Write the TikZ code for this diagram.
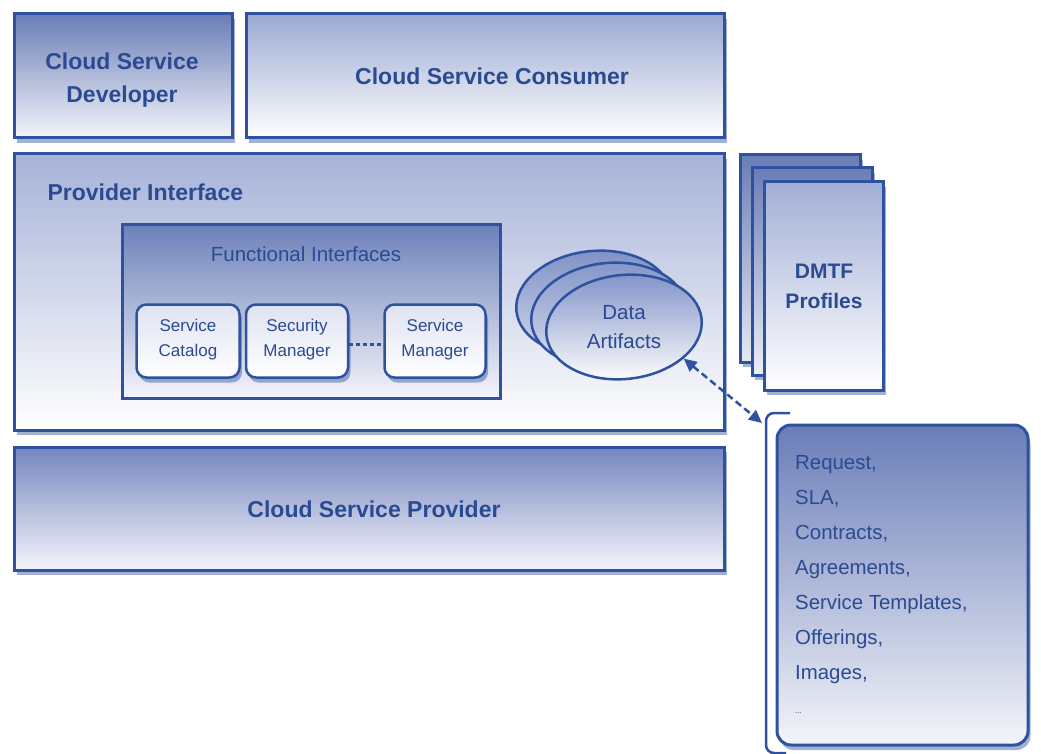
\documentclass[tikz,border=0pt]{standalone}
\usepackage{fontspec}
\setmainfont{Liberation Sans}
\usetikzlibrary{shadows,arrows.meta,shapes.geometric}
\definecolor{bord}{HTML}{2F52A0}
\definecolor{txt}{HTML}{2A4A92}
\definecolor{dk}{HTML}{6A7DB6}
\definecolor{md}{HTML}{9AA8D2}
\definecolor{lt}{HTML}{F4F5FA}
\definecolor{pitop}{HTML}{A6B2D8}
\definecolor{fitop}{HTML}{6C80BA}
\definecolor{sbtop}{HTML}{DFE3F1}
\definecolor{e3top}{HTML}{7D8FC4}
\definecolor{e3bot}{HTML}{D5DBEC}
\definecolor{e2top}{HTML}{8294C7}
\definecolor{e2bot}{HTML}{DCE1EF}
\definecolor{e1top}{HTML}{7F91C6}
\definecolor{d3bot}{HTML}{E6E9F3}
\definecolor{d2bot}{HTML}{EDEFF6}
\definecolor{d1top}{HTML}{A2AFD6}
\definecolor{csptop}{HTML}{7585BF}
\definecolor{lsttop}{HTML}{6A7DB7}
\begin{document}
\begin{tikzpicture}[x=1pt,y=-1pt,
  box/.style={draw=bord, line width=3pt, inner sep=0pt, text=txt,
    drop shadow={fill=bord, opacity=0.45, shadow xshift=2.5pt, shadow yshift=-5pt}},
  rbox/.style={box, rounded corners=10pt, line width=2.5pt},
  big/.style={font=\bfseries\fontsize{23}{33}\selectfont, text=txt, align=center},
  small/.style={font=\fontsize{17}{25}\selectfont, text=txt, align=center},
  mid/.style={font=\fontsize{20.5}{29}\selectfont, text=txt, align=center},
  ell/.style={ellipse, draw=bord, line width=2.5pt, minimum width=156pt, minimum height=104pt, inner sep=0pt, rotate=6},
  dotline/.style={draw=bord, line width=3pt, dash pattern=on 4pt off 3pt},
  conn/.style={draw=bord, line width=2.5pt, dash pattern=on 7pt off 4pt, {Triangle[length=13pt,width=12pt]}-{Triangle[length=13pt,width=12pt]}}
]
\useasboundingbox (0,0) rectangle (1041,754);

% top row
\node[box, top color=dk, bottom color=lt, minimum width=218pt, minimum height=124pt] (dev) at (123,76) {};
\node[big] (devt) at (122,80) {Cloud Service\\Developer};
\node[box, top color=md, bottom color=white, minimum width=478pt, minimum height=124pt] (cons) at (485,76) {};
\node[big] (const) at (492,76) {Cloud Service Consumer};

% provider interface
\node[box, top color=pitop, bottom color=white, minimum width=710pt, minimum height=276pt] (pi) at (369,292) {};
\node[big, anchor=west] (pit) at (44,192) {Provider Interface};

% functional interfaces
\node[draw=bord, line width=3pt, top color=fitop, bottom color=lt, minimum width=378pt, minimum height=174pt, inner sep=0pt] (fi) at (311,311) {};
\node[mid] (fit) at (306,254) {Functional Interfaces};
\node[rbox, top color=sbtop, bottom color=white, minimum width=103pt, minimum height=73pt] (cat) at (188,341) {};
\node[small] (catt) at (188,340) {Service\\Catalog};
\node[rbox, top color=sbtop, bottom color=white, minimum width=102pt, minimum height=73pt] (sec) at (297,341) {};
\node[small] (sect) at (297,340) {Security\\Manager};
\node[rbox, top color=sbtop, bottom color=white, minimum width=101pt, minimum height=73pt] (svc) at (435,341) {};
\node[small] (svct) at (435,340) {Service\\Manager};
\draw[dotline] ([yshift=-3pt]sec.east) -- ([yshift=-3pt]svc.west);

% data artifacts
\node[ell, top color=e3top, bottom color=e3bot] (da3) at (594,303) {};
\node[ell, top color=e2top, bottom color=e2bot] (da2) at (609,315) {};
\node[ell, top color=e1top, bottom color=white] (da) at (624,327) {};
\node[mid] (dat) at (624,327) {Data\\Artifacts};

% DMTF profiles
\node[box, top color=dk, bottom color=d3bot, minimum width=120pt, minimum height=207pt] (dm3) at (800,258.5) {};
\node[box, top color=dk, bottom color=d2bot, minimum width=120pt, minimum height=207pt] (dm2) at (812,271.5) {};
\node[box, top color=d1top, bottom color=white, minimum width=119pt, minimum height=208pt] (dm1) at (823.5,286) {};
\node[big, font=\bfseries\fontsize{21}{30}\selectfont] (dmt) at (824,286) {DMTF\\Profiles};

% cloud service provider
\node[box, top color=csptop, bottom color=lt, minimum width=710pt, minimum height=123pt] (csp) at (369,508.5) {};
\node[big] (cspt) at (374,509) {Cloud Service Provider};

% list box with bracket
\node[rbox, line width=3pt, top color=lsttop, bottom color=lt, minimum width=251pt, minimum height=320pt, rounded corners=14pt] (lst) at (902.5,585) {};
\node[anchor=north west, align=left, inner sep=0pt, text=txt, font=\fontsize{20.4}{35}\selectfont] (lstt) at (795,455)
  {Request,\\SLA,\\Contracts,\\Agreements,\\Service Templates,\\Offerings,\\Images,};
\node[anchor=west, inner sep=0pt, text=txt, font=\fontsize{8}{8}\selectfont] (dots) at (795,713) {...};
\coordinate (brk) at (762,423);
\coordinate (bt) at (790,413);
\coordinate (bb) at (786,753);
\draw[draw=bord, line width=2.5pt, rounded corners=8pt] (bt) -- (766,413) -- (766,753) -- (bb);
\draw[conn] (da.south east) -- (brk);
\end{tikzpicture}
\end{document}
